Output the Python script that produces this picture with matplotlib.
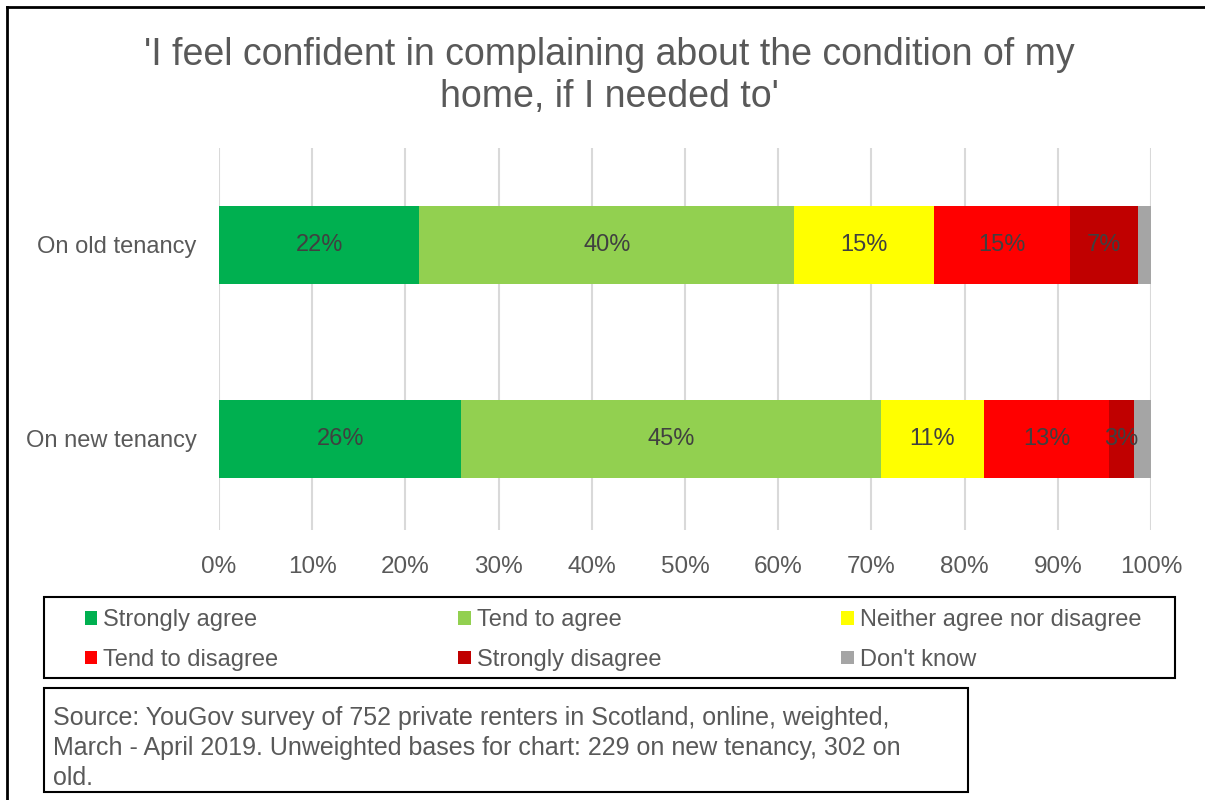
import matplotlib
matplotlib.use("Agg")
import matplotlib.pyplot as plt
from matplotlib.lines import Line2D
from matplotlib.patches import Rectangle
import numpy as np

plt.rcParams["font.family"] = ["Liberation Sans", "DejaVu Sans"]

TEXT_GREY = "#595959"
LABEL_GREY = "#404040"

categories = ["On old tenancy", "On new tenancy"]
responses = [
    "Strongly agree",
    "Tend to agree",
    "Neither agree nor disagree",
    "Tend to disagree",
    "Strongly disagree",
    "Don't know",
]
# shares in percent, one list per response, ordered as categories
strongly_agree = [21.5, 26.0]
tend_to_agree = [40.2, 45.0]
neither = [15.0, 11.1]
tend_to_disagree = [14.6, 13.4]
strongly_disagree = [7.3, 2.7]
dont_know = [1.4, 1.8]
series = [strongly_agree, tend_to_agree, neither, tend_to_disagree, strongly_disagree, dont_know]
colors = ["#00b050", "#92d050", "#ffff00", "#ff0000", "#c00000", "#a5a5a5"]
labelled = [True, True, True, True, True, False]

x_ticks = np.arange(0, 101, 10)
x_tick_labels = [f"{t}%" for t in x_ticks]

title = "'I feel confident in complaining about the condition of my\nhome, if I needed to'"
source = ("Source: YouGov survey of 752 private renters in Scotland, online, weighted,\n"
          "March - April 2019. Unweighted bases for chart: 229 on new tenancy, 302 on\n"
          "old.")

W, H = 1205, 800


def fig_box(x0, y0, x1, y1):
    """Pixel box (top-left origin) -> figure fraction (left, bottom, width, height)."""
    return (x0 / W, 1 - y1 / H, (x1 - x0) / W, (y1 - y0) / H)


fig = plt.figure(figsize=(W / 100, H / 100), dpi=100)
ax = fig.add_axes(fig_box(219, 148, 1151, 530))

y = np.arange(len(categories))
left = np.zeros(len(categories))
handles = []
for name, vals, color, show in zip(responses, series, colors, labelled):
    vals = np.asarray(vals)
    bars = ax.barh(y, vals, left=left, height=0.4, color=color, edgecolor="none",
                   label=name, zorder=2)
    handles.append(bars)
    if show:
        ax.bar_label(bars, labels=[f"{v:.0f}%" for v in vals], label_type="center",
                     fontsize=17, color=LABEL_GREY)
    left += vals

ax.set_xlim(0, 100)
ax.set_ylim(1.47, -0.5)
ax.set_xticks(x_ticks, x_tick_labels)
ax.set_yticks(y, categories)
ax.tick_params(axis="both", length=0, labelsize=17, labelcolor=TEXT_GREY)
ax.tick_params(axis="x", labelsize=17.5, pad=19)
ax.tick_params(axis="y", pad=16)
ax.grid(axis="x", color="#d9d9d9", linewidth=1.5, zorder=0)
ax.set_axisbelow(True)
for spine in ax.spines.values():
    spine.set_visible(False)

fig.text(609 / W, 1 - 37 / H, title, ha="center", va="top", fontsize=27,
         color=TEXT_GREY, linespacing=1.2)

# legend filled row by row: matplotlib fills columns first, so interleave
order = [0, 3, 1, 4, 2, 5]
fig.legend(handles=[handles[i] for i in order], loc="upper left", ncol=3, mode="expand",
           bbox_to_anchor=fig_box(85, 609, 1141, 675), fontsize=17, frameon=False,
           handlelength=0.52, handleheight=0.52, handletextpad=0.25, labelspacing=0.76,
           borderpad=0, borderaxespad=0, labelcolor=TEXT_GREY)
fig.patches.append(Rectangle(fig_box(44, 597, 1175, 678)[:2], (1175 - 44) / W, (678 - 597) / H,
                             transform=fig.transFigure, fill=False, edgecolor="black",
                             linewidth=1.5))

fig.patches.append(Rectangle(fig_box(44, 688, 968, 792)[:2], (968 - 44) / W, (792 - 688) / H,
                             transform=fig.transFigure, fill=False, edgecolor="black",
                             linewidth=1.5))
fig.text(53 / W, 1 - 706 / H, source, ha="left", va="top", fontsize=18,
         color=TEXT_GREY, linespacing=1.31)

# outer frame (left and top edges only)
fig.lines.append(Line2D([7 / W, 7 / W], [0, 1 - 7 / H], transform=fig.transFigure,
                        color="black", linewidth=2))
fig.lines.append(Line2D([7 / W, 1], [1 - 7 / H, 1 - 7 / H], transform=fig.transFigure,
                        color="black", linewidth=2))

fig.savefig("out.png", dpi=100)
